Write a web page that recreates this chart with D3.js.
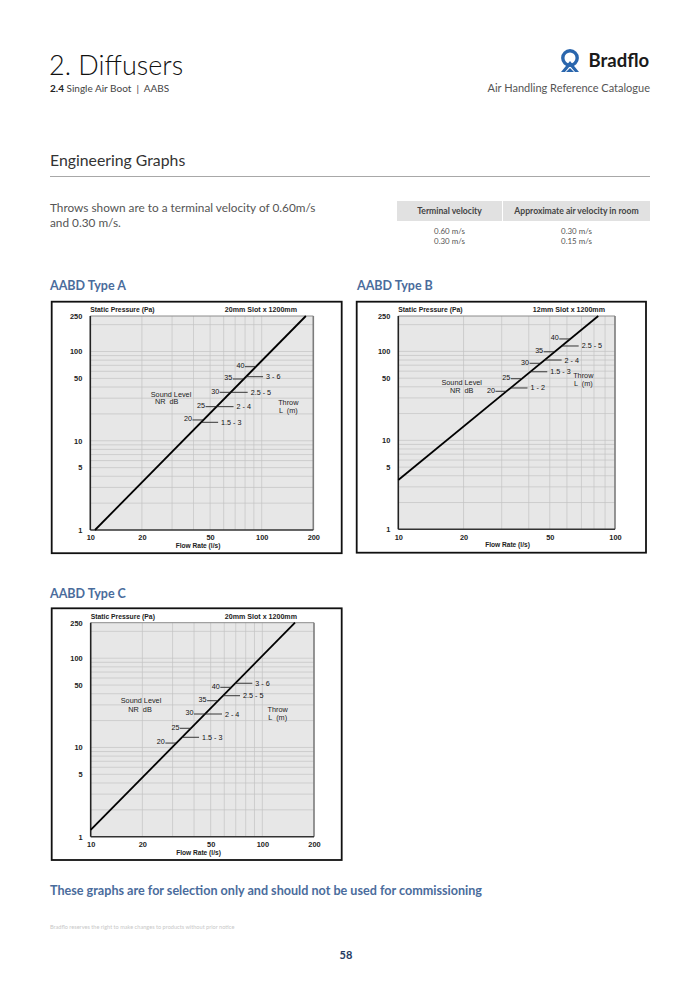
<!DOCTYPE html>
<html><head><meta charset="utf-8">
<script src="https://cdn.jsdelivr.net/npm/d3@7"></script>
<style>
html,body{margin:0;padding:0;background:#fff;}
svg{display:block;}
</style></head>
<body>
<svg id="page" width="700" height="990"></svg>
<script>
// ---------------- DATA ----------------
const pressureTicks = [1, 5, 10, 50, 100, 250];
const flowTicksAC = [10, 20, 50, 100, 200];
const flowTicksB = [10, 20, 50, 100];
const flowGridAC = [20, 30, 40, 50, 60, 70, 80, 90, 100];
const flowGridB = [20, 30, 40, 50, 60, 70, 80, 90];
const pressureGrid = [2,3,4,5,6,7,8,9,10,20,30,40,50,60,70,80,90,100,200];

const nrLevels = ["20", "25", "30", "35", "40"];

// Type A
const curveA_flow = [10.65, 181];
const curveA_pressure = [1, 250];
const nrPressureA = [17.1, 24.1, 34.9, 49.2, 67.6];
const throwA = ["1.5 - 3", "2 - 4", "2.5 - 5", "3 - 6"];
const throwPressureA = [16.1, 24.1, 34.9, 52.2];

// Type B
const curveB_flow = [10, 83.7];
const curveB_pressure = [3.58, 250];
const nrPressureB = [35.6, 49.3, 73.5, 99, 138];
const throwB = ["1 - 2", "1.5 - 3", "2 - 4", "2.5 - 5"];
const throwPressureB = [38.8, 59, 80, 115];

// Type C
const curveC_flow = [10, 155];
const curveC_pressure = [1.19, 250];
const nrPressureC = [11.2, 16.4, 23.7, 33.4, 47.2];
const throwC = ["1.5 - 3", "2 - 4", "2.5 - 5", "3 - 6"];
const throwPressureC = [13.0, 23.7, 38, 52.4];

const tvTerminal = ["0.60 m/s", "0.30 m/s"];
const tvRoom = ["0.30 m/s", "0.15 m/s"];

// ---------------- PAGE ----------------
const svg = d3.select("#page");
const SANS = "Lato, 'Open Sans', sans-serif";
const CH = "'Liberation Sans', Arial, sans-serif";
const BLUE = "#4a6c9c";

svg.append("text").attr("x", 49).attr("y", 75).attr("font-family", SANS)
  .attr("font-weight", 300).attr("font-size", 27).attr("fill", "#111").text("2. Diffusers");
const sub = svg.append("text").attr("x", 50).attr("y", 91.5).attr("font-family", SANS)
  .attr("font-size", 10).attr("fill", "#444").attr("xml:space", "preserve");
sub.append("tspan").attr("font-weight", 700).attr("fill", "#222").text("2.4");
sub.append("tspan").text(" Single Air Boot \u00a0|\u00a0 AABS");

svg.append("text").attr("x", 650).attr("y", 91.5).attr("text-anchor", "end").attr("font-family", SANS)
  .attr("font-size", 11).attr("fill", "#555").text("Air Handling Reference Catalogue");

// logo
const logo = svg.append("g").attr("transform", "translate(570,58)");
logo.append("circle").attr("r", 7.2).attr("fill", "none").attr("stroke", "#2a66ad").attr("stroke-width", 3.4);
logo.append("path").attr("d", "M-9,14 L0,3 L9,14 L5,14 L0,8 L-5,14 Z").attr("fill", "#2a66ad");
logo.append("path").attr("d", "M-4,14 L0,10 L4,14 Z").attr("fill", "#2a66ad");
svg.append("text").attr("x", 588.5).attr("y", 67).attr("font-family", SANS).attr("font-weight", 700)
  .attr("font-size", 18.5).attr("fill", "#1a1a1a").text("Bradflo");

svg.append("text").attr("x", 50).attr("y", 166).attr("font-family", SANS)
  .attr("font-size", 15.8).attr("fill", "#333").text("Engineering Graphs");
svg.append("line").attr("x1", 50).attr("x2", 650).attr("y1", 176.5).attr("y2", 176.5)
  .attr("stroke", "#a8a8a8").attr("stroke-width", 1);

svg.append("text").attr("x", 50).attr("y", 212).attr("font-family", SANS)
  .attr("font-size", 11.8).attr("fill", "#555").text("Throws shown are to a terminal velocity of 0.60m/s");
svg.append("text").attr("x", 50).attr("y", 227).attr("font-family", SANS)
  .attr("font-size", 11.8).attr("fill", "#555").text("and 0.30 m/s.");

// table
svg.append("rect").attr("x", 397).attr("y", 201).attr("width", 105).attr("height", 20).attr("fill", "#e1e1e1");
svg.append("rect").attr("x", 503).attr("y", 201).attr("width", 147).attr("height", 20).attr("fill", "#e1e1e1");
svg.append("text").attr("x", 449.5).attr("y", 214).attr("text-anchor", "middle").attr("font-family", SANS)
  .attr("font-weight", 700).attr("font-size", 8.6).attr("fill", "#444").text("Terminal velocity");
svg.append("text").attr("x", 576.5).attr("y", 214).attr("text-anchor", "middle").attr("font-family", SANS)
  .attr("font-weight", 700).attr("font-size", 8.6).attr("fill", "#444").text("Approximate air velocity in room");
tvTerminal.forEach((t, i) => svg.append("text").attr("x", 449.5).attr("y", 234 + i * 10)
  .attr("text-anchor", "middle").attr("font-family", SANS).attr("font-size", 7.9).attr("fill", "#555").text(t));
tvRoom.forEach((t, i) => svg.append("text").attr("x", 576.5).attr("y", 234 + i * 10)
  .attr("text-anchor", "middle").attr("font-family", SANS).attr("font-size", 7.9).attr("fill", "#555").text(t));

// footer
svg.append("text").attr("x", 50).attr("y", 895).attr("font-family", SANS).attr("font-weight", 700)
  .attr("font-size", 12.6).attr("fill", BLUE).text("These graphs are for selection only and should not be used for commissioning");
svg.append("text").attr("x", 50).attr("y", 929).attr("font-family", SANS)
  .attr("font-size", 5.6).attr("fill", "#c8c8c8").text("Bradflo reserves the right to make changes to products without prior notice");
svg.append("text").attr("x", 346).attr("y", 959).attr("text-anchor", "middle").attr("font-family", SANS)
  .attr("font-weight", 700).attr("font-size", 11).attr("fill", "#1f3a63").text("58");

// ---------------- CHARTS ----------------
function drawChart(cfg) {
  const L = cfg.layout;
  svg.append("text").attr("x", L.titleX).attr("y", L.titleY).attr("font-family", SANS)
    .attr("font-weight", 700).attr("font-size", 12.5).attr("fill", BLUE).text(cfg.title);

  svg.append("rect").attr("x", L.fx).attr("y", L.fy).attr("width", L.fw).attr("height", L.fh)
    .attr("fill", "#fff").attr("stroke", "#111").attr("stroke-width", 1.8);

  const x = d3.scaleLog().domain(cfg.flowDomain).range([L.px0, L.px1]);
  const y = d3.scaleLog().domain([1, 250]).range([L.py1, L.py0]);
  const g = svg.append("g");

  g.append("rect").attr("x", L.px0).attr("y", L.py0).attr("width", L.px1 - L.px0).attr("height", L.py1 - L.py0)
    .attr("fill", "#e7e7e7");

  g.selectAll(".hg").data(pressureGrid).join("line")
    .attr("x1", L.px0).attr("x2", L.px1).attr("y1", d => y(d)).attr("y2", d => y(d))
    .attr("stroke", "#c3c3c3").attr("stroke-width", 0.7);
  g.selectAll(".vg").data(cfg.flowGrid).join("line")
    .attr("y1", L.py0).attr("y2", L.py1).attr("x1", d => x(d)).attr("x2", d => x(d))
    .attr("stroke", "#c3c3c3").attr("stroke-width", 0.7);

  // plot borders: top/right grey, left/bottom dark
  g.append("line").attr("x1", L.px0).attr("x2", L.px1).attr("y1", L.py0).attr("y2", L.py0)
    .attr("stroke", "#8c8c8c").attr("stroke-width", 1);
  g.append("line").attr("x1", L.px1).attr("x2", L.px1).attr("y1", L.py0).attr("y2", L.py1)
    .attr("stroke", "#7c7c7c").attr("stroke-width", 1.6);
  g.append("line").attr("x1", L.px0).attr("x2", L.px1).attr("y1", L.py1).attr("y2", L.py1)
    .attr("stroke", "#333").attr("stroke-width", 1.6);
  g.append("line").attr("x1", L.px0).attr("x2", L.px0).attr("y1", L.py0).attr("y2", L.py1)
    .attr("stroke", "#222").attr("stroke-width", 1.6);

  // axes via d3 axis generators (labels only)
  const yAxis = d3.axisLeft(y).tickValues(pressureTicks).tickFormat(d3.format("d")).tickSize(0).tickPadding(8);
  const ya = g.append("g").attr("transform", `translate(${L.px0},0)`).call(yAxis);
  const xAxis = d3.axisBottom(x).tickValues(cfg.flowTicks).tickFormat(d3.format("d")).tickSize(0).tickPadding(5);
  const xa = g.append("g").attr("transform", `translate(0,${L.py1})`).call(xAxis);
  [ya, xa].forEach(a => {
    a.select(".domain").remove();
    a.selectAll("text").attr("font-family", CH).attr("font-weight", 700).attr("font-size", 7.4).attr("fill", "#222");
  });

  g.append("text").attr("x", L.px0).attr("y", L.py0 - 4).attr("font-family", CH).attr("font-weight", 700)
    .attr("font-size", 6.8).attr("fill", "#222").text("Static Pressure (Pa)");
  g.append("text").attr("x", L.slotX).attr("y", L.py0 - 4).attr("text-anchor", "end").attr("font-family", CH)
    .attr("font-weight", 700).attr("font-size", 7.1).attr("fill", "#222").text(cfg.slot);
  g.append("text").attr("x", L.flowLabelX).attr("y", L.py1 + 18).attr("text-anchor", "middle").attr("font-family", CH)
    .attr("font-weight", 700).attr("font-size", 6.6).attr("fill", "#222").text("Flow Rate (l/s)");

  // curve
  const pts = cfg.curveFlow.map((f, i) => [f, cfg.curvePressure[i]]);
  g.append("path").datum(pts).attr("fill", "none").attr("stroke", "#000").attr("stroke-width", 1.8)
    .attr("d", d3.line().x(d => x(d[0])).y(d => y(d[1])));

  // flow on curve for a given pressure (log-log straight line between curve points)
  const lq = d3.scaleLinear().domain(cfg.curvePressure.map(Math.log10)).range(cfg.curveFlow.map(Math.log10));
  const flowAt = p => Math.pow(10, lq(Math.log10(p)));

  const NRLEN = 11, THLEN = 17;
  cfg.nrPressure.forEach((p, i) => {
    const xc = x(flowAt(p)), yy = y(p);
    g.append("line").attr("x1", xc - NRLEN).attr("x2", xc).attr("y1", yy).attr("y2", yy)
      .attr("stroke", "#222").attr("stroke-width", 0.9);
    g.append("text").attr("x", xc - NRLEN - 0.5).attr("y", yy - 1.2).attr("text-anchor", "end")
      .attr("dominant-baseline", "central").attr("font-family", CH).attr("font-size", 7.2).attr("fill", "#111")
      .text(nrLevels[i]);
  });
  cfg.throwPressure.forEach((p, i) => {
    const xc = x(flowAt(p)), yy = y(p);
    g.append("line").attr("x1", xc).attr("x2", xc + THLEN).attr("y1", yy).attr("y2", yy)
      .attr("stroke", "#222").attr("stroke-width", 0.9);
    g.append("text").attr("x", xc + THLEN + 3).attr("y", yy).attr("dominant-baseline", "central")
      .attr("font-family", CH).attr("font-size", 7.2).attr("fill", "#111").text(cfg.throwLabels[i]);
  });

  const txt = (px, py, s) => g.append("text").attr("x", L.px0 + px).attr("y", L.py0 + py)
    .attr("text-anchor", "middle").attr("dominant-baseline", "central").attr("font-family", CH)
    .attr("font-size", 7.3).attr("fill", "#222").attr("xml:space", "preserve").text(s);
  txt(L.sl[0], L.sl[1], "Sound Level");
  txt(L.nr[0], L.nr[1], "NR  dB");
  txt(L.th[0], L.th[1], "Throw");
  txt(L.lm[0], L.lm[1], "L  (m)");
}

drawChart({
  title: "AABD Type A", slot: "20mm Slot x 1200mm",
  flowDomain: [10, 200], flowTicks: flowTicksAC, flowGrid: flowGridAC,
  curveFlow: curveA_flow, curvePressure: curveA_pressure,
  nrPressure: nrPressureA, throwLabels: throwA, throwPressure: throwPressureA,
  layout: { titleX: 50, titleY: 289.5, fx: 51.7, fy: 301.7, fw: 290, fh: 251.5,
    px0: 90.3, px1: 313.3, py0: 316, py1: 530, slotX: 297, flowLabelX: 198,
    sl: [80.7, 78], nr: [76.4, 85.7], th: [198, 86], lm: [198, 94] }
});
drawChart({
  title: "AABD Type B", slot: "12mm Slot x 1200mm",
  flowDomain: [10, 100], flowTicks: flowTicksB, flowGrid: flowGridB,
  curveFlow: curveB_flow, curvePressure: curveB_pressure,
  nrPressure: nrPressureB, throwLabels: throwB, throwPressure: throwPressureB,
  layout: { titleX: 357, titleY: 289.5, fx: 356.7, fy: 301.7, fw: 289.3, fh: 251,
    px0: 398.3, px1: 615, py0: 316, py1: 529.3, slotX: 605, flowLabelX: 507.5,
    sl: [63.4, 66.7], nr: [63.4, 74.7], th: [185, 59], lm: [185, 67.3] }
});
drawChart({
  title: "AABD Type C", slot: "20mm Slot x 1200mm",
  flowDomain: [10, 200], flowTicks: flowTicksAC, flowGrid: flowGridAC,
  curveFlow: curveC_flow, curvePressure: curveC_pressure,
  nrPressure: nrPressureC, throwLabels: throwC, throwPressure: throwPressureC,
  layout: { titleX: 50, titleY: 597.5, fx: 51.7, fy: 608.3, fw: 290, fh: 251.7,
    px0: 90.7, px1: 314, py0: 622.7, py1: 836.7, slotX: 297, flowLabelX: 198.5,
    sl: [50.3, 78], nr: [49.3, 86.3], th: [187, 86.6], lm: [187, 95] }
});
</script>
</body></html>
